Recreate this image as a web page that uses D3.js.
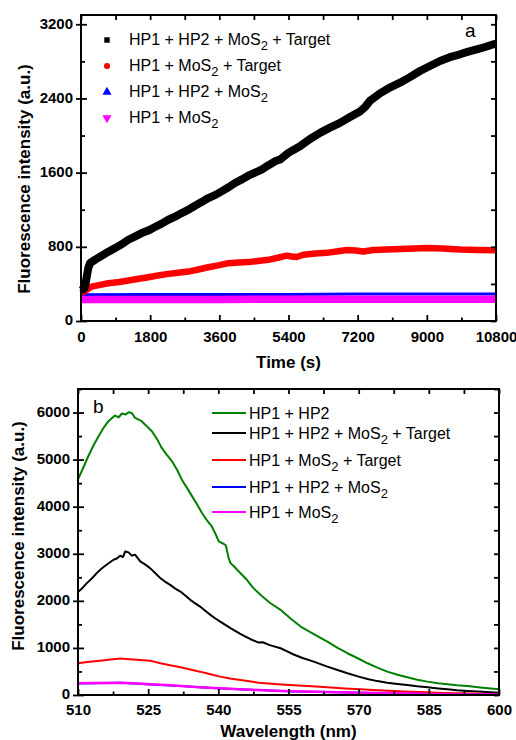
<!DOCTYPE html>
<html>
<head>
<meta charset="utf-8">
<script src="https://d3js.org/d3.v7.min.js"></script>
<style>
    body { margin: 0; background: #fff; }
    svg { display: block; font-family: "Liberation Sans", Arial, sans-serif; }
    .axis text { font-weight: bold; font-size: 15px; fill: #000; }
    .axis line { stroke: #000; stroke-width: 1.8; }
    .ax { font-weight: bold; font-size: 17px; }
    .leg { font-size: 16px; }
</style>
</head>
<body>
<div id="chart"></div>
<script>
// panel a: intensity vs time (s)
var kinTarget = [[0,330],[60,345],[100,360],[150,480],[190,570],[234,624],[380,665],[538,703],[700,745],[885,786],[1050,825],[1232,876],[1400,910],[1579,948],[1750,975],[1926,1013],[2100,1050],[2273,1092],[2450,1125],[2620,1164],[2800,1200],[2967,1243],[3150,1285],[3313,1326],[3500,1360],[3660,1398],[3850,1445],[4007,1488],[4200,1530],[4354,1567],[4530,1600],[4701,1632],[4880,1680],[5048,1722],[5179,1741],[5395,1813],[5550,1850],[5699,1884],[5950,1960],[6220,2029],[6480,2085],[6740,2137],[7000,2200],[7260,2260],[7400,2310],[7521,2375],[7781,2455],[8050,2520],[8302,2570],[8560,2630],[8822,2696],[9080,2750],[9343,2804],[9600,2845],[9863,2876],[10080,2905],[10297,2930],[10520,2955],[10730,2984],[10800,2990]];
var kinMosTarget = [[0,300],[100,325],[277,371],[500,390],[711,407],[1000,420],[1232,436],[1500,455],[1752,472],[2000,490],[2273,508],[2530,520],[2793,533],[3050,555],[3313,580],[3570,600],[3834,624],[4100,630],[4354,635],[4658,650],[4874,660],[5179,688],[5352,705],[5480,695],[5612,690],[5786,715],[6100,728],[6393,735],[6650,750],[6914,765],[7150,760],[7347,750],[7600,765],[8128,775],[8500,780],[9000,786],[9400,782],[9863,770],[10300,765],[10800,762]];
var kinHp12Mos = [[0,283],[1800,285],[3600,285],[5400,286],[7200,290],[9000,292],[10800,292]];
var kinMos = [[0,232],[3600,233],[7200,234],[10800,234]];

var kinLabels = ["HP1 + HP2 + MoS_2_ + Target", "HP1 + MoS_2_ + Target", "HP1 + HP2 + MoS_2", "HP1 + MoS_2"];
var kinColors = ["#000000", "#ff0000", "#0000ff", "#ff00ff"];
var kinShapes = [d3.symbolSquare, d3.symbolCircle, d3.symbolTriangle, d3.symbolTriangle];

var timeTicks = [0, 1800, 3600, 5400, 7200, 9000, 10800];
var timeMinor = [900, 2700, 4500, 6300, 8100, 9900];
var kinTicks = [0, 800, 1600, 2400, 3200];
var kinMinor = [400, 1200, 2000, 2800];

// panel b: spectra, wavelength (nm)
var specHp12 = [[510,4580],[511,4800],[512.2,5071],[513.3,5300],[514.4,5496],[515.5,5680],[516.5,5816],[517.9,5936],[518.7,5900],[519.4,5979],[520.2,5960],[520.8,6007],[521.5,5990],[522.2,5887],[523.6,5816],[524.6,5720],[525.8,5603],[527,5420],[527.9,5248],[529,5100],[530.1,4965],[531.2,4780],[532.2,4574],[533.3,4400],[534.4,4219],[535.5,4040],[536.5,3865],[537.5,3720],[538.6,3580],[539.4,3420],[540.1,3262],[541.1,3213],[541.6,3180],[542.2,2908],[542.6,2801],[543.3,2740],[544,2660],[545,2560],[546.1,2447],[547.5,2270],[549,2128],[551,1960],[553.3,1809],[555.5,1620],[557.6,1454],[560.5,1290],[563.3,1135],[565.5,1000],[567.6,887],[570,770],[571.9,674],[574,580],[576.1,496],[578.3,430],[580.4,376],[582.5,325],[584.7,284],[587,250],[589,227],[591,205],[593.3,191],[596.5,155],[600,121]];
var specTarget = [[510,2185],[511,2280],[511.9,2376],[513,2480],[514,2589],[515,2680],[516.1,2766],[517.6,2872],[518.3,2900],[519,2960],[519.6,2930],[520.1,3050],[520.8,3030],[521.5,2960],[522.2,2980],[523.3,2837],[524.4,2770],[525.4,2695],[526.5,2590],[527.6,2482],[528.6,2410],[529.7,2340],[530.8,2260],[531.9,2198],[533,2110],[534,2021],[535,1950],[536.1,1879],[537.2,1790],[538.3,1702],[539.3,1630],[540.4,1560],[541.5,1490],[542.6,1419],[543.6,1360],[544.7,1298],[545.8,1240],[546.9,1185],[548.6,1113],[549.5,1120],[551,1060],[553.3,993],[554.6,930],[556.1,860],[558,785],[560.4,709],[563.3,603],[565.5,530],[567.6,461],[570,390],[571.9,340],[574,295],[576.1,262],[578.3,235],[580.4,213],[582.5,185],[584.7,163],[587,140],[589,121],[591,100],[593.3,85],[596.5,68],[600,50]];
var specMosTarget = [[510,674],[512,700],[514.7,730],[517,755],[519.1,773],[521,760],[523.3,745],[525.4,730],[527.6,674],[529.7,630],[531.9,589],[534,540],[536.1,496],[538.3,440],[540.4,390],[542.5,350],[544.7,319],[546.6,290],[548.6,262],[552,235],[556.1,206],[560,185],[563.3,163],[567,140],[570.4,121],[574,100],[577.6,85],[581,70],[584.7,57],[588,45],[591.6,35],[596,28],[600,21]];
var specHp12Mos = [[510,245],[514,252],[519,258],[522,245],[525.4,225],[528.7,208],[532,190],[536,165],[540.4,140],[544.5,120],[548.6,104],[552,90],[556.1,76],[563,62],[570.4,48],[577.5,35],[584.7,22],[592,12],[600,5]];
var specMos = [[510,248],[514,255],[519,262],[522,250],[525.4,227],[528.7,210],[532,191],[536,166],[540.4,142],[544.5,122],[548.6,106],[552,92],[556.1,78],[563,64],[570.4,50],[577.5,36],[584.7,21],[592,12],[600,7]];

var specLabels = ["HP1 + HP2", "HP1 + HP2 + MoS_2_ + Target", "HP1 + MoS_2_ + Target", "HP1 + HP2 + MoS_2", "HP1 + MoS_2"];
var specColors = ["#008000", "#000000", "#ff0000", "#0000ff", "#ff00ff"];

var waveTicks = [510, 525, 540, 555, 570, 585, 600];
var waveMinor = [517.5, 532.5, 547.5, 562.5, 577.5, 592.5];
var specTicks = [0, 1000, 2000, 3000, 4000, 5000, 6000];
var specMinor = [500, 1500, 2500, 3500, 4500, 5500, 6500];

var svg = d3.select("#chart")
    .append("svg")
    .attr("width", 516)
    .attr("height", 740);

// text with "_" separated subscript parts
function richText(g, x, y, label) {
    var t = g.append("text").attr("class", "leg").attr("x", x).attr("y", y);
    label.split("_").forEach(function(part, i) {
        if (part === "") return;
        if (i % 2 === 1) {
            t.append("tspan").attr("dy", 5).attr("font-size", 13).text(part);
        } else {
            t.append("tspan").attr("dy", i > 0 ? -5 : 0).text(part);
        }
    });
}

function frame(p, xT, xM, yT, yM, xPad) {
    var xr = p.xScale.range(), yr = p.yScale.range();
    var g = svg.append("g").attr("class", "axis");

    g.append("g").attr("transform", `translate(0,${yr[0]})`)
        .call(d3.axisBottom(p.xScale).tickValues(xT).tickSize(-6).tickPadding(xPad).tickFormat(d3.format("d")));
    g.append("g").attr("transform", `translate(0,${yr[0]})`)
        .call(d3.axisBottom(p.xScale).tickValues(xM).tickSize(-3.5).tickFormat(""));
    g.append("g").attr("transform", `translate(0,${yr[1]})`)
        .call(d3.axisTop(p.xScale).tickValues(xT.concat(xM)).tickSize(-5).tickFormat(""));

    g.append("g").attr("transform", `translate(${xr[0]},0)`)
        .call(d3.axisLeft(p.yScale).tickValues(yT).tickSize(5).tickPadding(3).tickFormat(d3.format("d")))
        .selectAll("text").attr("dy", "0.25em");
    g.append("g").attr("transform", `translate(${xr[0]},0)`)
        .call(d3.axisLeft(p.yScale).tickValues(yT).tickSize(-6).tickFormat(""));
    g.append("g").attr("transform", `translate(${xr[0]},0)`)
        .call(d3.axisLeft(p.yScale).tickValues(yM).tickSize(-4).tickFormat(""));
    g.append("g").attr("transform", `translate(${xr[1]},0)`)
        .call(d3.axisRight(p.yScale).tickValues(yT.concat(yM)).tickSize(-5).tickFormat(""));

    g.selectAll(".domain").remove();

    g.append("rect")
        .attr("x", xr[0]).attr("y", yr[1])
        .attr("width", xr[1] - xr[0]).attr("height", yr[0] - yr[1])
        .attr("fill", "none").attr("stroke", "#000").attr("stroke-width", 2);
}

/*
PANEL A
*/
var a = {};
a.xScale = d3.scaleLinear().domain([0, 10800]).range([81, 496]);
a.yScale = d3.scaleLinear().domain([0, 3300]).range([321, 15]);
a.line = d3.line()
    .x(function(d) { return a.xScale(d[0]); })
    .y(function(d) { return a.yScale(d[1]); });

var kinSeries = [kinTarget, kinMosTarget, kinHp12Mos, kinMos];
var kinWidth = [8, 6.5, 3, 7.5];
[2, 3, 1, 0].forEach(function(i) {
    svg.append("path")
        .datum(kinSeries[i])
        .attr("d", a.line)
        .attr("fill", "none")
        .attr("stroke", kinColors[i])
        .attr("stroke-width", kinWidth[i])
        .attr("stroke-linejoin", "round");
});

frame(a, timeTicks, timeMinor, kinTicks, kinMinor, 10);

a.legend = svg.append("g");
kinLabels.forEach(function(lab, i) {
    var ly = 45 + i * 26;
    var rot = i === 3 ? 180 : 0;
    a.legend.append("path")
        .attr("d", d3.symbol().type(kinShapes[i]).size(i < 2 ? 30 : 36))
        .attr("transform", `translate(107,${ly - 5}) rotate(${rot})`)
        .attr("fill", kinColors[i]);
    richText(a.legend, 129, ly, lab);
});

svg.append("text").attr("x", 465).attr("y", 37).attr("font-size", 19).text("a");

svg.append("text")
    .attr("class", "ax")
    .attr("x", (81 + 496) / 2)
    .attr("y", 368)
    .attr("text-anchor", "middle")
    .text("Time (s)");

svg.append("text")
    .attr("class", "ax")
    .attr("transform", "translate(24,179) rotate(-90)")
    .attr("dy", "0.35em")
    .attr("text-anchor", "middle")
    .text("Fluorescence intensity (a.u.)");

/*
PANEL B
*/
var b = {};
b.xScale = d3.scaleLinear().domain([510, 600]).range([78, 499]);
b.yScale = d3.scaleLinear().domain([0, 6500]).range([695, 389]);
b.line = d3.line()
    .x(function(d) { return b.xScale(d[0]); })
    .y(function(d) { return b.yScale(d[1]); });

var specSeries = [specHp12, specTarget, specMosTarget, specHp12Mos, specMos];
var specWidth = [2, 2, 2, 2, 2.5];
specSeries.forEach(function(s, i) {
    svg.append("path")
        .datum(s)
        .attr("d", b.line)
        .attr("fill", "none")
        .attr("stroke", specColors[i])
        .attr("stroke-width", specWidth[i])
        .attr("stroke-linejoin", "round");
});

frame(b, waveTicks, waveMinor, specTicks, specMinor, 9);

b.legend = svg.append("g");
var specRows = [413, 433, 460, 487, 512];
specLabels.forEach(function(lab, i) {
    b.legend.append("line")
        .attr("x1", 212).attr("x2", 246)
        .attr("y1", specRows[i]).attr("y2", specRows[i])
        .attr("stroke", specColors[i])
        .attr("stroke-width", 2.2);
    richText(b.legend, 249, specRows[i] + 5.5, lab);
});

svg.append("text").attr("x", 93).attr("y", 413).attr("font-size", 19).text("b");

svg.append("text")
    .attr("class", "ax")
    .attr("x", (78 + 499) / 2)
    .attr("y", 737)
    .attr("text-anchor", "middle")
    .text("Wavelength (nm)");

svg.append("text")
    .attr("class", "ax")
    .attr("transform", "translate(18,536) rotate(-90)")
    .attr("dy", "0.35em")
    .attr("text-anchor", "middle")
    .text("Fluorescence intensity (a.u.)");
</script>
</body>
</html>
